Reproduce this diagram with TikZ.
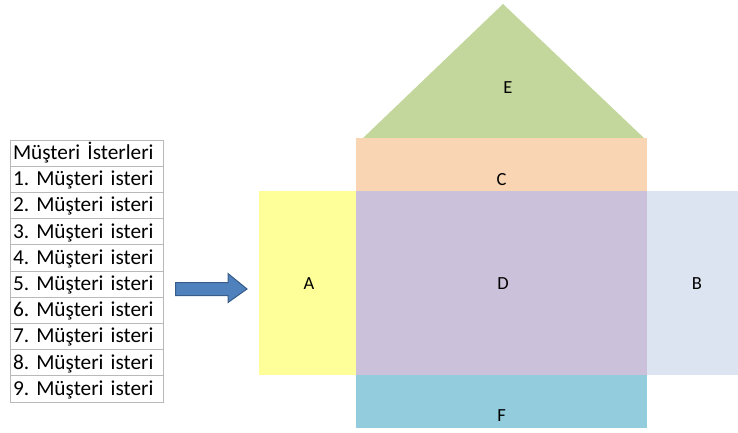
\documentclass[tikz,border=0pt]{standalone}
\usepackage{fontspec}
\setmainfont{Carlito}
\usepackage{tikz}
\usetikzlibrary{positioning}
\definecolor{roofgreen}{HTML}{C3D69B}
\definecolor{peach}{HTML}{FAD5B4}
\definecolor{lemon}{HTML}{FFFF99}
\definecolor{lilac}{HTML}{CCC1DA}
\definecolor{paleblue}{HTML}{DBE4F0}
\definecolor{teal}{HTML}{93CDDD}
\definecolor{arrowblue}{HTML}{4F81BD}
\definecolor{arrowedge}{HTML}{385D8A}
\frenchspacing

\begin{document}
\begin{tikzpicture}[
    x=1pt, y=1pt,
    row/.style={rectangle, draw=gray!55, line width=0.8pt, outer sep=0pt,
                minimum width=153pt, minimum height=26.2pt, inner xsep=3pt, inner ysep=0pt,
                text width=147pt, align=left, text height=16pt, text depth=3.2pt,
                font=\fontsize{21.3}{24}\selectfont},
    room/.style={rectangle, outer sep=0pt, inner sep=0pt},
    tag/.style={inner sep=0pt, font=\fontsize{18.5}{20}\selectfont}
]
\useasboundingbox (0,0) rectangle (738,432);

% requirements list
\node[row, anchor=north west] (r0) at (10,292) {Müşteri İsterleri};
\foreach \i [count=\j from 0] in {1,...,9}
    \node[row, below=0pt of r\j] (r\i) {\i. Müşteri isteri};

% block arrow
\filldraw[fill=arrowblue, draw=arrowedge, line width=1pt]
    (175.5,136.5) -- (228,136.5) -- (228,129.5) -- (247,143)
    -- (228,158.5) -- (228,149.5) -- (175.5,149.5) -- cycle;

% house of quality
\fill[roofgreen] (362,293) -- (503,428) -- (645,293) -- cycle;
\node[tag] (e) at (508,344) {E};

\node[room, fill=lilac, minimum width=291pt, minimum height=184pt] (d) at (501.5,149) {};
\node[room, fill=peach, minimum width=291pt, minimum height=53pt, above=0pt of d] (c) {};
\node[room, fill=lemon, minimum width=97pt, minimum height=184pt, left=0pt of d] (a) {};
\node[room, fill=paleblue, minimum width=91pt, minimum height=184pt, right=0pt of d] (b) {};
\node[room, fill=teal, minimum width=291pt, minimum height=53pt, below=0pt of d] (f) {};

% letters
\node[tag] at (309,148) {A};
\node[tag] at (697,148) {B};
\node[tag, above=5pt of c.south] {C};
\node[tag] at (503,148) {D};
\node[tag, above=6pt of f.south] {F};

\end{tikzpicture}
\end{document}
